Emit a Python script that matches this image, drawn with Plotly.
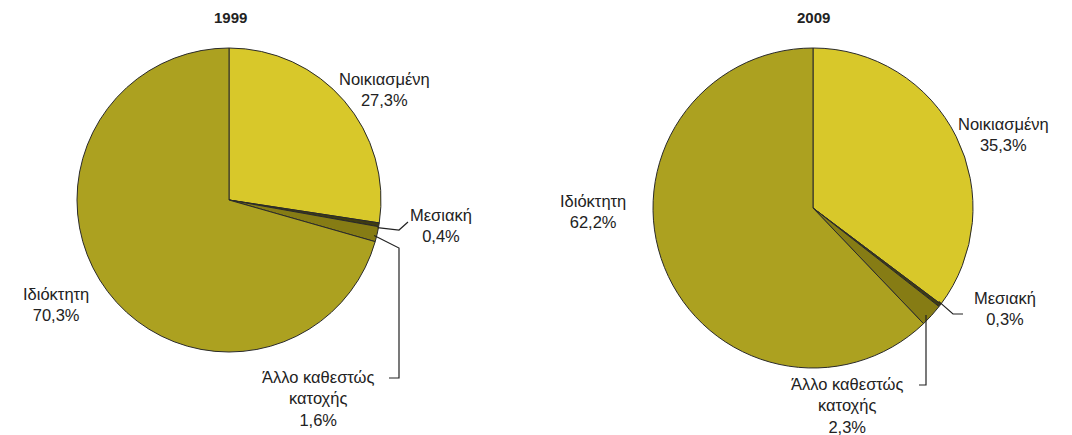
import math
import plotly.graph_objects as go

W, H = 1072, 435

years = ["1999", "2009"]
categories = ["Νοικιασμένη", "Μεσιακή", "Άλλο καθεστώς κατοχής", "Ιδιόκτητη"]
values_1999 = [27.3, 0.4, 1.6, 70.3]
values_2009 = [35.3, 0.3, 2.3, 62.2]
value_labels_1999 = ["27,3%", "0,4%", "1,6%", "70,3%"]
value_labels_2009 = ["35,3%", "0,3%", "2,3%", "62,2%"]
colors = ["#D8C82A", "#3E3B12", "#867C14", "#ACA120"]

FONT = "Liberation Sans, Arial, sans-serif"
TXT = "#222222"

# pie geometry in pixels (center x, center y, radius)
pies = [(229, 200, 152), (813, 208, 160)]


def px(x):
    return x / W


def py(y):
    return 1 - y / H


def mid_point(values, idx, cx, cy, r, f=1.0):
    tot = sum(values)
    cum = sum(values[:idx]) + values[idx] / 2
    ang = math.radians(90 - 360 * cum / tot)
    return cx + f * r * math.cos(ang), cy - f * r * math.sin(ang)


fig = go.Figure()
for (cx, cy, r), vals in zip(pies, [values_1999, values_2009]):
    fig.add_trace(go.Pie(
        labels=categories, values=vals, sort=False, direction="clockwise",
        rotation=0, textinfo="none", hoverinfo="label+percent",
        marker=dict(colors=colors, line=dict(color="#2a2a2a", width=1)),
        domain=dict(x=[px(cx - r), px(cx + r)], y=[py(cy + r), py(cy - r)]),
        showlegend=False,
    ))

annotations = []
shapes = []


def label(x, y, text, size=16.5, bold=False):
    annotations.append(dict(
        x=px(x), y=py(y), xref="paper", yref="paper", text=f"<b>{text}</b>" if bold else text,
        showarrow=False, xanchor="center", yanchor="middle",
        font=dict(family=FONT, size=size, color=TXT), align="center"))


def path(points):
    d = "M " + " L ".join(f"{px(x)},{py(y)}" for x, y in points)
    shapes.append(dict(type="path", path=d, xref="paper", yref="paper",
                       line=dict(color="#222222", width=1.2)))


# titles
label(230, 18, years[0], size=15, bold=True)
label(813, 18, years[1], size=15, bold=True)

# 1999 labels
label(384, 90, f"{categories[0]}<br>{value_labels_1999[0]}")
label(441, 225, f"Μεσιακή<br>{value_labels_1999[1]}")
label(318, 398, f"Άλλο καθεστώς<br>κατοχής<br>{value_labels_1999[2]}")
label(56, 304, f"{categories[3]}<br>{value_labels_1999[3]}")

cx, cy, r = pies[0]
sx, sy = mid_point(values_1999, 1, cx, cy, r, 0.99)
path([(sx, sy + 3), (399, 230), (408, 222)])
sx, sy = mid_point(values_1999, 2, cx, cy, r, 0.98)
path([(sx, sy + 2), (399, 248), (399, 378), (389, 378)])

# 2009 labels
label(1003, 134, f"{categories[0]}<br>{value_labels_2009[0]}")
label(1005, 308, f"Μεσιακή<br>{value_labels_2009[1]}")
label(847, 405, f"Άλλο καθεστώς<br>κατοχής<br>{value_labels_2009[2]}")
label(593, 212, f"{categories[3]}<br>{value_labels_2009[3]}")

cx, cy, r = pies[1]
sx, sy = mid_point(values_2009, 1, cx, cy, r, 0.99)
path([(sx, sy - 3), (953, 314), (963, 314)])
sx, sy = mid_point(values_2009, 2, cx, cy, r, 0.96)
path([(926, sy + 4), (926, 385), (919, 385)])

fig.update_layout(
    width=W, height=H, margin=dict(l=0, r=0, t=0, b=0),
    paper_bgcolor="white", plot_bgcolor="white",
    annotations=annotations, shapes=shapes,
    font=dict(family=FONT, color=TXT),
)

fig.write_html(
    "out.html",
    config={"displayModeBar": False},
    post_script="document.body.style.margin='0px';document.body.style.overflow='hidden';",
)
